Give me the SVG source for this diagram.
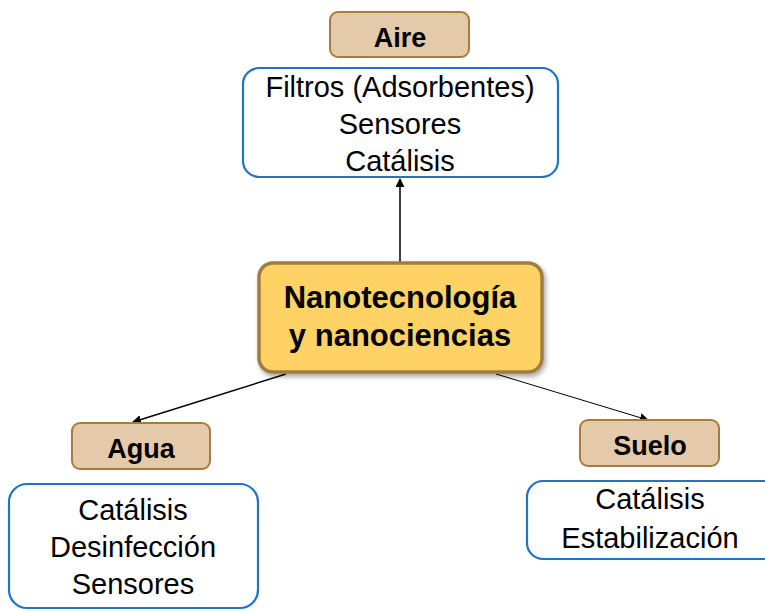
<svg xmlns="http://www.w3.org/2000/svg" width="765" height="611" viewBox="0 0 765 611">
<defs>
<marker id="arr" viewBox="0 0 10 10" refX="9" refY="5" markerWidth="9" markerHeight="9" markerUnits="userSpaceOnUse" orient="auto">
<path d="M0,0 L10,5 L0,10 z" fill="#000"/>
</marker>
<filter id="sh" x="-10%" y="-10%" width="130%" height="140%">
<feGaussianBlur in="SourceAlpha" stdDeviation="2.5"/>
<feOffset dx="2" dy="3"/>
<feComponentTransfer><feFuncA type="linear" slope="0.35"/></feComponentTransfer>
<feMerge><feMergeNode/><feMergeNode in="SourceGraphic"/></feMerge>
</filter>
</defs>
<style>
.cat{fill:#E5C9AB;stroke:#A67C3D;stroke-width:2}
.lst{fill:#fff;stroke:#1F74C4;stroke-width:2.2}
.ctr{fill:#FFD266;stroke:#A07D3B;stroke-width:3.5}
.b{font-family:"Liberation Sans",Arial,sans-serif;font-weight:bold;text-anchor:middle;fill:#000}
.t{font-family:"Liberation Sans",Arial,sans-serif;font-size:29px;text-anchor:middle;fill:#000}
.ln{stroke:#000;fill:none}
</style>
<rect width="765" height="611" fill="#fff"/>
<g id="connectors">
<line class="ln" x1="400" y1="262" x2="400" y2="179" stroke-width="1.5" marker-end="url(#arr)"/>
<line class="ln" x1="286" y1="374" x2="133" y2="422" stroke-width="1.5" marker-end="url(#arr)"/>
<line class="ln" x1="496" y1="374" x2="648" y2="420" stroke-width="1" marker-end="url(#arr)"/>
</g>
<g id="aire">
<rect class="cat" x="330" y="12" width="139" height="45" rx="8"/>
<text class="b" x="400" y="47" font-size="27">Aire</text>
</g>
<g id="aire-list">
<rect class="lst" x="243" y="68" width="315" height="109" rx="16"/>
<text class="t" x="400" y="97">Filtros (Adsorbentes)</text>
<text class="t" x="400" y="134">Sensores</text>
<text class="t" x="400" y="171">Catálisis</text>
</g>
<g id="centro">
<rect class="ctr" x="259" y="263" width="283" height="109" rx="14" filter="url(#sh)"/>
<text class="b" x="400" y="308" font-size="31">Nanotecnología</text>
<text class="b" x="400" y="346" font-size="31">y nanociencias</text>
</g>
<g id="agua">
<rect class="cat" x="72" y="423" width="138" height="46" rx="8"/>
<text class="b" x="141" y="458" font-size="27">Agua</text>
</g>
<g id="agua-list">
<rect class="lst" x="9" y="484" width="249" height="124" rx="18"/>
<text class="t" x="133" y="520">Catálisis</text>
<text class="t" x="133" y="557">Desinfección</text>
<text class="t" x="133" y="594">Sensores</text>
</g>
<g id="suelo">
<rect class="cat" x="580" y="420" width="139" height="46" rx="8"/>
<text class="b" x="650" y="455" font-size="27">Suelo</text>
</g>
<g id="suelo-list">
<rect class="lst" x="527" y="481" width="260" height="78" rx="16"/>
<text class="t" x="650" y="509">Catálisis</text>
<text class="t" x="650" y="548">Estabilización</text>
</g>
</svg>
